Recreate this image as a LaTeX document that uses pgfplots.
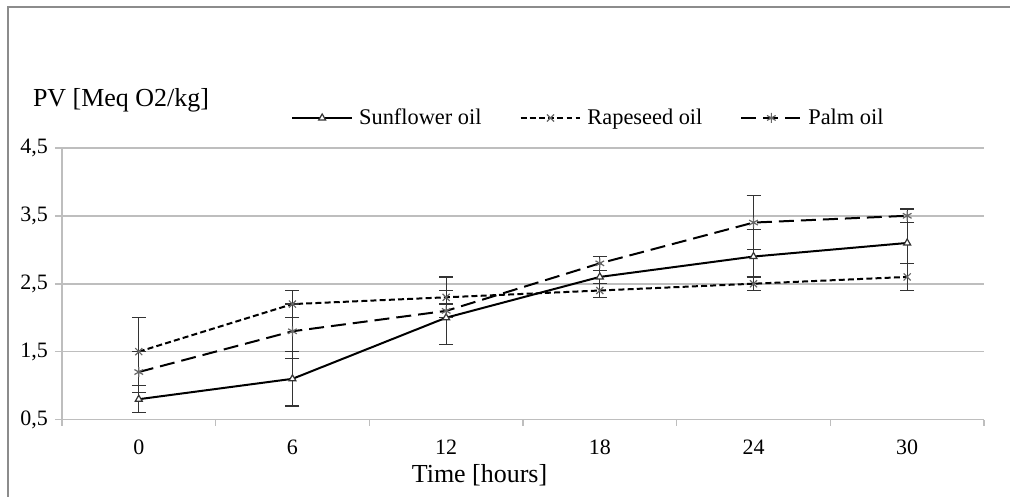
\documentclass[border=0pt]{standalone}
\usepackage{fontspec}
\setmainfont{Liberation Serif}
\usepackage{pgfplots}
\pgfplotsset{compat=1.18}
\usetikzlibrary{plotmarks}

\definecolor{gridgray}{HTML}{BEBEBE}
\definecolor{framegray}{HTML}{8C8C8C}

\pgfplotsset{
  errs/.style={
    error bars/.cd, y dir=both, y explicit,
    error bar style={line width=0.6pt, black!80, solid},
    error mark options={rotate=90, mark size=3.5pt, line width=0.6pt, black!80, solid}
  }
}

\begin{document}
\begin{tikzpicture}
  % page size and chart frame (only top and left edges show)
  \path (0,0) rectangle (505.5pt,248.5pt);
  \draw[line width=1pt, framegray] (4pt,0) -- (4pt,245pt) -- (505.5pt,245pt);

  \begin{axis}[
      at={(31pt,38.5pt)}, anchor=south west,
      scale only axis,
      width=461.5pt, height=136pt,
      xmin=-0.5, xmax=5.5,
      ymin=0.5, ymax=4.5,
      axis x line*=bottom, axis y line*=left,
      axis line style={gridgray, line width=0.8pt},
      xtick={0,1,2,3,4,5},
      xticklabels={0,6,12,18,24,30},
      minor xtick={-0.5,0.5,1.5,2.5,3.5,4.5,5.5},
      ytick={0.5,1.5,2.5,3.5,4.5},
      yticklabels={{0,5},{1,5},{2,5},{3,5},{4,5}},
      ymajorgrids,
      grid style={gridgray, line width=0.8pt},
      tick align=outside,
      major x tick style={draw=none},
      minor x tick style={gridgray, line width=0.8pt},
      minor tick length=3pt,
      y tick style={gridgray, line width=0.8pt},
      major tick length=3.5pt,
      tick label style={font=\fontsize{11}{13}\selectfont, black},
      xticklabel style={yshift=-3pt},
      legend columns=3,
      legend style={at={(0.572,1.11)}, anchor=center, draw=none, fill=none,
        font=\fontsize{11.2}{13}\selectfont,
        /tikz/every odd column/.append style={column sep=1pt},
        /tikz/every even column/.append style={column sep=17pt}},
      legend image code/.code={
        \draw[mark repeat=2, mark phase=2] plot coordinates {(0pt,0pt)(15pt,0pt)(30pt,0pt)};
      },
    ]
    \addplot[black, line width=1pt, mark=triangle*, mark size=2pt,
      mark options={solid, fill=white, draw=black!80, line width=0.6pt}, errs]
      coordinates {
        (0,0.8) +- (0,0.2)
        (1,1.1) +- (0,0.4)
        (2,2.0) +- (0,0.4)
        (3,2.6) +- (0,0.1)
        (4,2.9) +- (0,0.4)
        (5,3.1) +- (0,0.3)
      };
    \addlegendentry{Sunflower oil}

    \addplot[black, line width=1pt, dash pattern=on 3pt off 1.6pt, mark=x, mark size=2.5pt,
      mark options={solid, draw=black!60, line width=0.6pt}, errs]
      coordinates {
        (0,1.5) +- (0,0.5)
        (1,2.2) +- (0,0.2)
        (2,2.3) +- (0,0.3)
        (3,2.4) +- (0,0.1)
        (4,2.5) +- (0,0.1)
        (5,2.6) +- (0,0.2)
      };
    \addlegendentry{Rapeseed oil}

    \addplot[black, line width=1pt, dash pattern=on 7.5pt off 3.5pt, mark=asterisk, mark size=2.5pt,
      mark options={solid, draw=black!60, line width=0.6pt}, errs]
      coordinates {
        (0,1.2) +- (0,0.3)
        (1,1.8) +- (0,0.4)
        (2,2.1) +- (0,0.1)
        (3,2.8) +- (0,0.1)
        (4,3.4) +- (0,0.4)
        (5,3.5) +- (0,0.1)
      };
    \addlegendentry{Palm oil}
  \end{axis}

  \node[anchor=west, font=\fontsize{13}{15}\selectfont] at (13pt,198.5pt) {PV [Meq O2/kg]};
  \node[font=\fontsize{13}{15}\selectfont] at (240pt,10.5pt) {Time [hours]};
\end{tikzpicture}
\end{document}
